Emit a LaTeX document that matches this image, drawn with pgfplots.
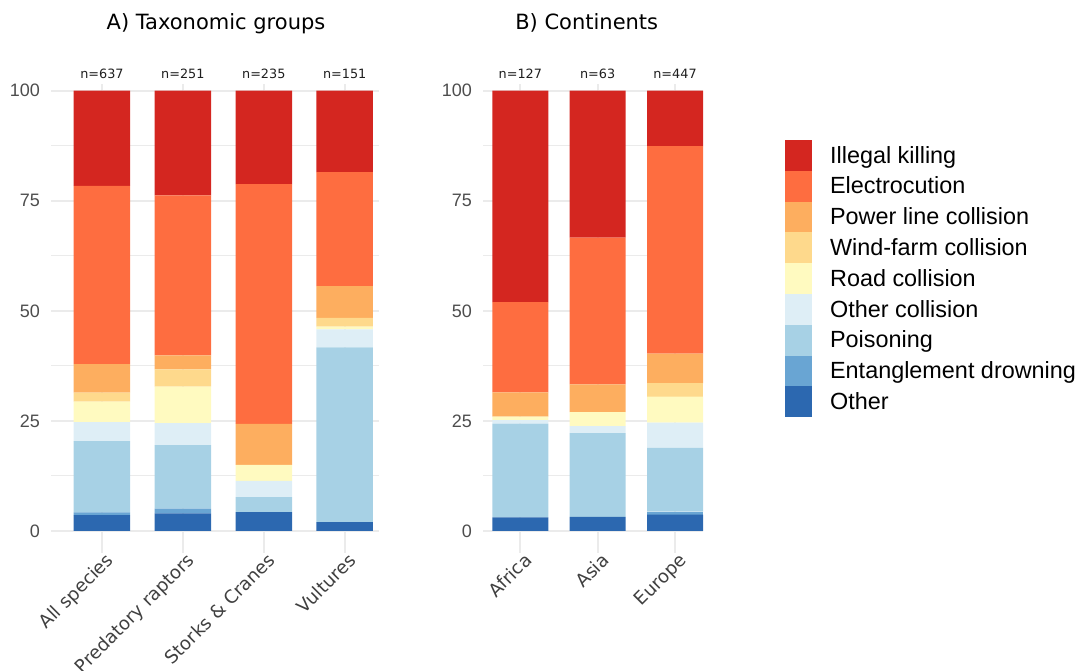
\documentclass[border=0pt]{standalone}
\usepackage{pgfplots}
\pgfplotsset{compat=1.18}
\usepackage{pgfplotstable}
\usepackage{fontspec}
\setmainfont{DejaVu Sans}
\newfontfamily\lib{Liberation Sans}

\definecolor{cIll}{HTML}{D42620}
\definecolor{cEle}{HTML}{FE6D40}
\definecolor{cPow}{HTML}{FDAE5F}
\definecolor{cWin}{HTML}{FED98C}
\definecolor{cRoa}{HTML}{FFFAC0}
\definecolor{cOco}{HTML}{DEEEF6}
\definecolor{cPoi}{HTML}{A7D1E5}
\definecolor{cEnt}{HTML}{69A5D3}
\definecolor{cOth}{HTML}{2C68B0}
\definecolor{gridc}{HTML}{EBEBEB}
\definecolor{tickc}{HTML}{4D4D4D}
\definecolor{xtickc}{HTML}{404040}

% shares in percent, bottom segment first; top = height of the full bar
\pgfplotstableread{
x other ent pois oc road wind pl elec ill top n
0 3.6 0.6 16.2 4.3 4.7 2.0 6.5 40.5 21.6 100 637
1 4.0 1.1 14.4 5.0 8.3 3.9 3.2 36.3 23.8 100 251
2 4.3 0.0 3.4 3.7 3.6 0.0 9.3 54.5 21.2 100 235
3 2.0 0.0 39.7 4.1 0.6 2.0 7.2 25.9 18.5 100 151
}\taxa

\pgfplotstableread{
x other ent pois oc road wind pl elec ill top n
0 3.1 0.0 21.3 0.8 0.8 0.0 5.5 20.5 48.0 100 127
1 3.2 0.0 19.0 1.6 3.2 0.0 6.3 33.3 33.4 100 63
2 3.7 0.7 14.5 5.7 5.9 3.0 6.8 47.1 12.6 100 447
}\conts

\pgfplotsset{
  frame/.style={scale only axis, ymin=-5, ymax=101.5, height=468.9pt,
    enlargelimits=false, clip=false},
  panel/.style={
    frame, ybar stacked,
    axis line style={draw=none}, tick style={draw=none},
    major tick length=0pt, minor tick length=0pt,
    xmajorgrids, ymajorgrids, yminorgrids,
    ytick={0,25,50,75,100}, minor ytick={12.5,37.5,62.5,87.5},
    major grid style={line width=1.8pt, color=gridc},
    minor grid style={line width=1pt, color=gridc},
    /pgf/number format/assume math mode=true,
    yticklabel style={font=\lib\fontsize{18}{20}\selectfont, text=tickc, inner sep=0pt, xshift=-11pt},
    xticklabel style={font=\fontsize{18.2}{20}\selectfont, text=xtickc, rotate=45, anchor=north east, inner sep=0pt, xshift=3pt, yshift=-1pt},
    title style={anchor=base, yshift=-6pt, font=\fontsize{21}{24}\selectfont},
  },
  seg/.style={fill=#1, draw=none,
    legend image code/.code={\path (0pt,-15.4pt) rectangle (27pt,15.4pt);
      \fill[#1] (0pt,-14.5pt) rectangle (27pt,14.5pt);}},
  ncount/.style={only marks, mark=*, mark size=0pt, mark options={draw=none, fill=none},
    nodes near coords={n=\pgfplotspointmeta}, point meta=explicit symbolic,
    nodes near coords style={font=\fontsize{12.8}{14}\selectfont, text=black!88,
      anchor=base, inner sep=0pt, yshift=12.4pt}},
}

\begin{document}
\begin{tikzpicture}
\useasboundingbox (0,0) rectangle (1079pt,671pt);

\begin{axis}[panel, at={(51pt,118pt)}, anchor=south west,
  width=328pt, bar width=56.5pt, xmin=-0.63, xmax=3.424,
  xtick={0,1,2,3}, xticklabels={All species, Predatory raptors, Storks \& Cranes, Vultures},
  title={A) Taxonomic groups}, title style={at={(0.503,1.1158)}}]
\addplot[seg=cOth] table[x=x, y=other] {\taxa};
\addplot[seg=cEnt] table[x=x, y=ent] {\taxa};
\addplot[seg=cPoi] table[x=x, y=pois] {\taxa};
\addplot[seg=cOco] table[x=x, y=oc] {\taxa};
\addplot[seg=cRoa] table[x=x, y=road] {\taxa};
\addplot[seg=cWin] table[x=x, y=wind] {\taxa};
\addplot[seg=cPow] table[x=x, y=pl] {\taxa};
\addplot[seg=cEle] table[x=x, y=elec] {\taxa};
\addplot[seg=cIll] table[x=x, y=ill] {\taxa};
\end{axis}
% sample sizes above the bars
\begin{axis}[frame, hide axis, at={(51pt,118pt)}, anchor=south west,
  width=328pt, xmin=-0.63, xmax=3.424]
\addplot[ncount] table[x=x, y=top, meta=n] {\taxa};
\end{axis}

\begin{axis}[panel, at={(483.2pt,118pt)}, anchor=south west,
  width=219.8pt, bar width=56pt, xmin=-0.48, xmax=2.362,
  xtick={0,1,2}, xticklabels={Africa, Asia, Europe},
  title={B) Continents}, title style={at={(0.471,1.1158)}},
  reverse legend,
  legend style={at={(1.3727,0.8811)}, anchor=north west, draw=none, fill=none,
    inner sep=0pt, row sep=0pt, nodes={inner sep=0pt},
    font=\lib\fontsize{23.4}{26}\selectfont,
    /tikz/every odd column/.append style={column sep=18pt}},
  legend cell align=left]
\addplot[seg=cOth] table[x=x, y=other] {\conts};
\addplot[seg=cEnt] table[x=x, y=ent] {\conts};
\addplot[seg=cPoi] table[x=x, y=pois] {\conts};
\addplot[seg=cOco] table[x=x, y=oc] {\conts};
\addplot[seg=cRoa] table[x=x, y=road] {\conts};
\addplot[seg=cWin] table[x=x, y=wind] {\conts};
\addplot[seg=cPow] table[x=x, y=pl] {\conts};
\addplot[seg=cEle] table[x=x, y=elec] {\conts};
\addplot[seg=cIll] table[x=x, y=ill] {\conts};
\legend{Other, Entanglement drowning, Poisoning, Other collision, Road collision,
  Wind-farm collision, Power line collision, Electrocution, Illegal killing}
\end{axis}
\begin{axis}[frame, hide axis, at={(483.2pt,118pt)}, anchor=south west,
  width=219.8pt, xmin=-0.48, xmax=2.362]
\addplot[ncount] table[x=x, y=top, meta=n] {\conts};
\end{axis}
\end{tikzpicture}
\end{document}
